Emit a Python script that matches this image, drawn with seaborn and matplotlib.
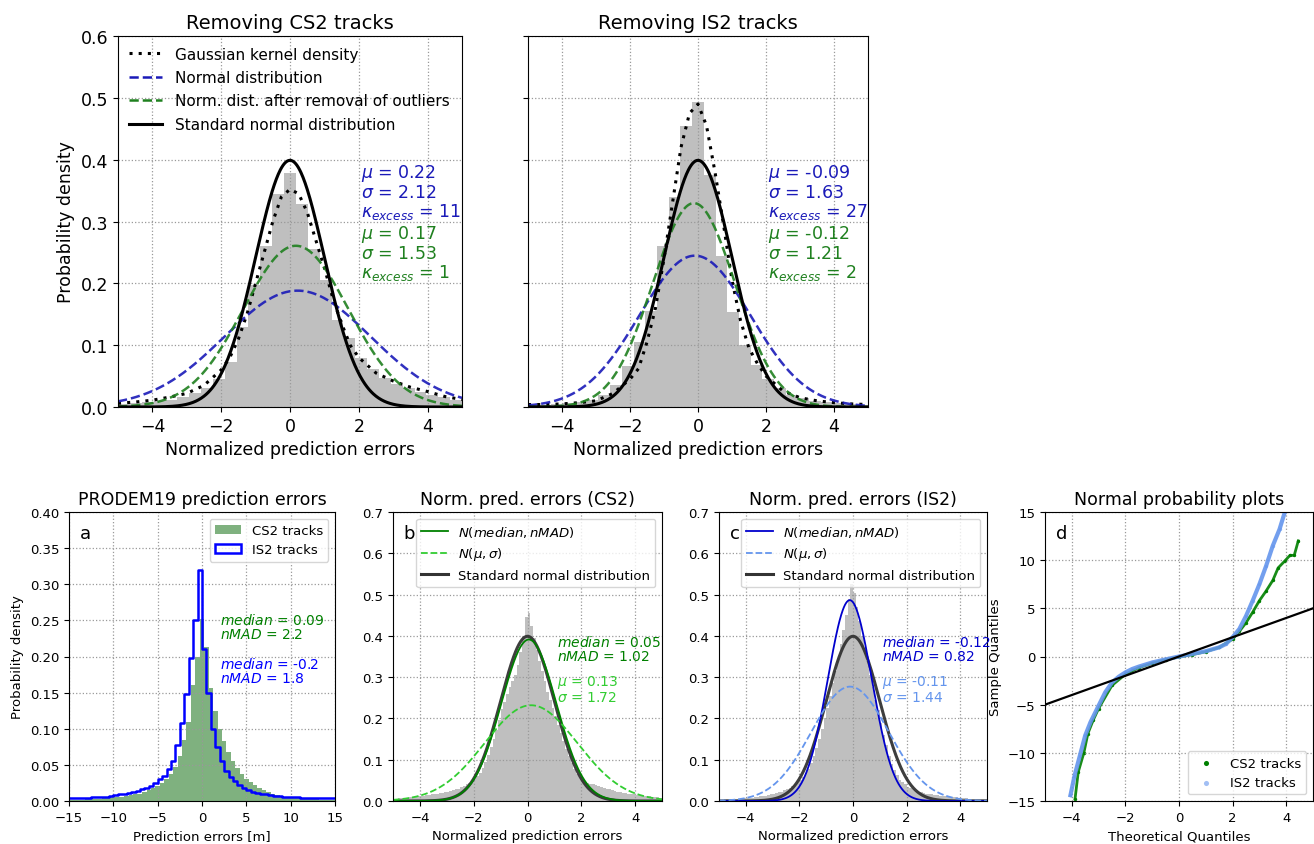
import numpy as np
import pandas as pd
import matplotlib
matplotlib.use('Agg')
import matplotlib.pyplot as plt
import seaborn as sns
from matplotlib.lines import Line2D
from matplotlib.patches import Patch
from matplotlib.ticker import FormatStrFormatter

# ---------------- data ----------------
# top row histograms: 29 bins between -5 and 5
top_n_bins = 29
cs2_top_hist = [0.005, 0.007, 0.008, 0.010, 0.012, 0.016, 0.022, 0.030, 0.045, 0.072,
                0.130, 0.198, 0.261, 0.345, 0.378, 0.328, 0.255, 0.205, 0.140, 0.112,
                0.080, 0.062, 0.047, 0.037, 0.030, 0.025, 0.020, 0.016, 0.012]
is2_top_hist = [0.003, 0.004, 0.005, 0.006, 0.008, 0.012, 0.020, 0.035, 0.067, 0.105,
                0.155, 0.260, 0.340, 0.455, 0.494, 0.375, 0.245, 0.154, 0.100, 0.068,
                0.046, 0.030, 0.020, 0.014, 0.010, 0.008, 0.006, 0.005, 0.004]
kde_x = [-5, -4.5, -4, -3.5, -3, -2.5, -2, -1.75, -1.5, -1.25, -1, -0.75, -0.5, -0.25,
         0, 0.25, 0.5, 0.75, 1, 1.25, 1.5, 1.75, 2, 2.5, 3, 3.5, 4, 4.5, 5]
cs2_kde = [0.006, 0.008, 0.011, 0.016, 0.022, 0.035, 0.060, 0.080, 0.110, 0.150, 0.200,
           0.250, 0.300, 0.340, 0.352, 0.345, 0.315, 0.270, 0.225, 0.175, 0.135, 0.100,
           0.080, 0.055, 0.042, 0.032, 0.025, 0.017, 0.012]
is2_kde = [0.004, 0.004, 0.005, 0.007, 0.010, 0.022, 0.045, 0.062, 0.105, 0.160, 0.240,
           0.330, 0.420, 0.475, 0.490, 0.455, 0.380, 0.295, 0.205, 0.140, 0.095, 0.070,
           0.050, 0.026, 0.015, 0.010, 0.007, 0.005, 0.004]
top_params = {
    'CS2': {'all': (0.22, 2.12, 11), 'clean': (0.17, 1.53, 1)},
    'IS2': {'all': (-0.09, 1.63, 27), 'clean': (-0.12, 1.21, 2)},
}

# panel a: prediction errors [m], 0.5 m bins
is2_a_hist = [0.004, 0.004, 0.004, 0.004, 0.004, 0.005, 0.005, 0.005, 0.006, 0.007,
              0.008, 0.009, 0.010, 0.011, 0.012, 0.014, 0.016, 0.018, 0.021, 0.025,
              0.030, 0.035, 0.044, 0.056, 0.077, 0.108, 0.148, 0.198, 0.250, 0.320,
              0.210, 0.150, 0.100, 0.075, 0.055, 0.042, 0.033, 0.027, 0.022, 0.018,
              0.015, 0.013, 0.011, 0.010, 0.009, 0.008, 0.007, 0.007, 0.006, 0.006,
              0.005, 0.005, 0.004, 0.004, 0.004, 0.004, 0.004, 0.004, 0.004, 0.004]
cs2_a_hist = [0.002, 0.002, 0.002, 0.002, 0.003, 0.003, 0.003, 0.003, 0.004, 0.004,
              0.005, 0.005, 0.006, 0.007, 0.008, 0.009, 0.010, 0.012, 0.015, 0.018,
              0.021, 0.025, 0.030, 0.037, 0.047, 0.062, 0.085, 0.110, 0.160, 0.200,
              0.252, 0.213, 0.157, 0.125, 0.100, 0.083, 0.068, 0.055, 0.045, 0.037,
              0.031, 0.026, 0.022, 0.018, 0.015, 0.012, 0.010, 0.008, 0.007, 0.006,
              0.005, 0.004, 0.004, 0.003, 0.003, 0.003, 0.003, 0.002, 0.002, 0.002, 0.002]
a_stats = {'CS2': (0.09, 2.2), 'IS2': (-0.2, 1.8)}

# panels b, c: normalized errors, 0.1 bins between -5 and 5
cs2_norm_hist = [0.006, 0.006, 0.007, 0.007, 0.008, 0.008, 0.009, 0.010, 0.011, 0.012,
                 0.012, 0.013, 0.014, 0.015, 0.016, 0.017, 0.018, 0.019, 0.020, 0.022,
                 0.023, 0.024, 0.026, 0.028, 0.030, 0.033, 0.036, 0.040, 0.044, 0.048,
                 0.053, 0.060, 0.069, 0.080, 0.095, 0.112, 0.130, 0.150, 0.172, 0.197,
                 0.222, 0.240, 0.258, 0.275, 0.290, 0.305, 0.330, 0.360, 0.400, 0.445,
                 0.455, 0.425, 0.395, 0.365, 0.340, 0.315, 0.290, 0.265, 0.245, 0.225,
                 0.205, 0.185, 0.165, 0.145, 0.125, 0.108, 0.092, 0.078, 0.066, 0.057,
                 0.051, 0.047, 0.044, 0.042, 0.040, 0.038, 0.036, 0.034, 0.032, 0.030,
                 0.028, 0.026, 0.025, 0.023, 0.022, 0.020, 0.019, 0.018, 0.017, 0.016,
                 0.015, 0.014, 0.013, 0.012, 0.012, 0.011, 0.010, 0.010, 0.009, 0.008]
is2_norm_hist = [0.003, 0.003, 0.004, 0.004, 0.004, 0.005, 0.005, 0.006, 0.006, 0.007,
                 0.007, 0.008, 0.008, 0.009, 0.010, 0.011, 0.012, 0.013, 0.014, 0.016,
                 0.017, 0.019, 0.021, 0.023, 0.026, 0.029, 0.032, 0.036, 0.040, 0.045,
                 0.050, 0.058, 0.067, 0.078, 0.092, 0.108, 0.128, 0.150, 0.175, 0.200,
                 0.225, 0.255, 0.285, 0.315, 0.345, 0.380, 0.415, 0.450, 0.490, 0.525,
                 0.505, 0.470, 0.435, 0.400, 0.370, 0.340, 0.305, 0.275, 0.245, 0.220,
                 0.190, 0.160, 0.135, 0.110, 0.090, 0.075, 0.062, 0.052, 0.045, 0.040,
                 0.035, 0.031, 0.028, 0.025, 0.023, 0.021, 0.019, 0.018, 0.017, 0.016,
                 0.015, 0.014, 0.013, 0.012, 0.011, 0.010, 0.010, 0.009, 0.009, 0.008,
                 0.008, 0.007, 0.007, 0.006, 0.006, 0.005, 0.005, 0.005, 0.004, 0.004]
b_stats = {'median': 0.05, 'nMAD': 1.02, 'mu': 0.13, 'sigma': 1.72}
c_stats = {'median': -0.12, 'nMAD': 0.82, 'mu': -0.11, 'sigma': 1.44}

# panel d: normal probability plot (theoretical vs sample quantiles)
qq_x_is2 = [-4.05, -3.9, -3.7, -3.5, -3.3, -3.0, -2.75, -2.5, -2.25, -2.0, -1.75, -1.5,
            -1.0, -0.5, 0.0, 0.5, 1.0, 1.5, 1.75, 2.0, 2.25, 2.5, 2.75, 3.0, 3.25, 3.5,
            3.75, 3.95]
qq_y_is2 = [-14.4, -12.4, -10.3, -8.2, -6.8, -5.1, -3.7, -2.7, -2.1, -1.65, -1.3, -1.05,
            -0.62, -0.3, 0.0, 0.27, 0.55, 0.95, 1.3, 2.0, 2.85, 4.2, 5.8, 7.5, 9.4, 11.5,
            13.2, 15.0]
qq_x_cs2 = [-3.88, -3.76, -3.55, -3.4, -3.2, -3.0, -2.5, -2.0, -1.5, -1.0, -0.5, 0.0,
            0.5, 1.0, 1.5, 2.0, 2.25, 2.5, 2.75, 3.0, 3.25, 3.5, 3.7, 3.96, 4.14, 4.3, 4.45]
qq_y_cs2 = [-14.8, -12.0, -10.0, -8.0, -6.6, -5.4, -3.0, -1.85, -1.15, -0.7, -0.33, -0.05,
            0.2, 0.5, 0.95, 1.8, 2.6, 3.5, 4.6, 5.8, 6.8, 7.9, 9.2, 9.95, 10.5, 10.5, 12.0]

# ---------------- helpers ----------------
def npdf(x, mu, s):
    return np.exp(-0.5 * ((x - mu) / s) ** 2) / (s * np.sqrt(2 * np.pi))

def centers_of(edges):
    edges = np.asarray(edges)
    return 0.5 * (edges[:-1] + edges[1:])

def weighted_hist(ax, edges, heights, **kw):
    df = pd.DataFrame({'x': centers_of(edges), 'w': np.asarray(heights, dtype=float)})
    sns.histplot(data=df, x='x', weights='w', bins=list(edges), stat='count', ax=ax, **kw)

W, H = 1314, 845
fig = plt.figure(figsize=(W / 100, H / 100), dpi=100)

def box(x0, y0, x1, y1):
    return [x0 / W, 1 - y1 / H, (x1 - x0) / W, (y1 - y0) / H]

ax1 = fig.add_axes(box(118, 37, 462, 408))
ax2 = fig.add_axes(box(528, 37, 868, 408))
axa = fig.add_axes(box(69, 513, 335, 802))
axb = fig.add_axes(box(393, 513, 662, 802))
axc = fig.add_axes(box(719, 513, 987, 802))
axd = fig.add_axes(box(1045, 513, 1313, 802))

xs = np.linspace(-5, 5, 501)
BLUE = '#1a1ab8'
GREEN = '#1f801f'
GRID = dict(linestyle=':', color='#999999', linewidth=0.9)

# ---------------- top row ----------------
top_edges = np.linspace(-5, 5, top_n_bins + 1)
for ax, hist, kde, key, title in [(ax1, cs2_top_hist, cs2_kde, 'CS2', 'Removing CS2 tracks'),
                                   (ax2, is2_top_hist, is2_kde, 'IS2', 'Removing IS2 tracks')]:
    weighted_hist(ax, top_edges, hist, color='grey', alpha=0.5, linewidth=0)
    mu1, s1, k1 = top_params[key]['all']
    mu2, s2, k2 = top_params[key]['clean']
    ax.plot(kde_x, kde, color='black', linestyle=(0, (1, 2)), lw=2.2)
    ax.plot(xs, npdf(xs, mu1, s1), color=BLUE, linestyle='--', lw=1.8, alpha=0.9)
    ax.plot(xs, npdf(xs, mu2, s2), color=GREEN, linestyle='--', lw=1.8, alpha=0.9)
    ax.plot(xs, npdf(xs, 0, 1), color='black', lw=2.2)
    ax.set_xlim(-5, 5)
    ax.set_ylim(0, 0.6)
    ax.set_xticks([-4, -2, 0, 2, 4])
    ax.set_yticks(np.arange(0, 0.61, 0.1))
    ax.yaxis.set_major_formatter(FormatStrFormatter('%.1f'))
    ax.grid(True, **GRID)
    ax.tick_params(labelsize=12.5)
    ax.set_title(title, fontsize=14)
    ax.set_xlabel('Normalized prediction errors', fontsize=12.5)
    ax.set_ylabel('')
    ax.text(2.05, 0.397, '$\\mu$ = %g\n$\\sigma$ = %.2f\n$\\kappa_{excess}$ = %d' % (mu1, s1, k1),
            color=BLUE, fontsize=12.5, va='top', ha='left', linespacing=1.0)
    ax.text(2.05, 0.297, '$\\mu$ = %g\n$\\sigma$ = %.2f\n$\\kappa_{excess}$ = %d' % (mu2, s2, k2),
            color=GREEN, fontsize=12.5, va='top', ha='left', linespacing=1.0)

ax1.set_ylabel('Probability density', fontsize=12.5)
ax2.tick_params(labelleft=False)
handles = [Line2D([], [], color='black', linestyle=(0, (1, 2)), lw=2.2),
           Line2D([], [], color=BLUE, linestyle='--', lw=1.8),
           Line2D([], [], color=GREEN, linestyle='--', lw=1.8),
           Line2D([], [], color='black', lw=2.2)]
labels = ['Gaussian kernel density', 'Normal distribution',
          'Norm. dist. after removal of outliers', 'Standard normal distribution']
ax1.legend(handles, labels, loc='upper left', frameon=False, fontsize=11,
           handlelength=2.2, borderaxespad=0.3, labelspacing=0.55)

# ---------------- panel a ----------------
a_edges = np.arange(-15, 15.01, 0.5)
a_green_edges = np.arange(-15.25, 15.26, 0.5)
weighted_hist(axa, a_green_edges, cs2_a_hist, color='darkgreen', alpha=0.5, linewidth=0)
weighted_hist(axa, a_edges, is2_a_hist, element='step', fill=False, color='blue', linewidth=1.8)
axa.set_xlim(-15, 15)
axa.set_ylim(0, 0.4)
axa.set_xticks([-15, -10, -5, 0, 5, 10, 15])
axa.set_yticks(np.arange(0, 0.401, 0.05))
axa.yaxis.set_major_formatter(FormatStrFormatter('%.2f'))
axa.grid(True, **GRID)
axa.set_title('PRODEM19 prediction errors', fontsize=12.5)
axa.set_xlabel('Prediction errors [m]', fontsize=9.5)
axa.set_ylabel('Probability density', fontsize=9.5)
axa.text(2.0, 0.262, '$median$ = %g\n$nMAD$ = %g' % a_stats['CS2'], color='green',
         fontsize=10, va='top', linespacing=1.0)
axa.text(2.0, 0.2, '$median$ = %g\n$nMAD$ = %g' % a_stats['IS2'], color='blue',
         fontsize=10, va='top', linespacing=1.0)
axa.legend([Patch(facecolor='darkgreen', alpha=0.5), Patch(facecolor='none', edgecolor='blue', lw=1.8)],
           ['CS2 tracks', 'IS2 tracks'], loc='upper right', fontsize=9.5)
axa.text(0.04, 0.96, 'a', transform=axa.transAxes, fontsize=13, va='top')

# ---------------- panels b and c ----------------
n_edges = np.linspace(-5, 5, 101)
for ax, hist, st, c1, c2, lab in [(axb, cs2_norm_hist, b_stats, 'green', 'limegreen', 'b'),
                                   (axc, is2_norm_hist, c_stats, 'mediumblue', 'cornflowerblue', 'c')]:
    weighted_hist(ax, n_edges, hist, color='grey', alpha=0.5, linewidth=0)
    ax.plot(xs, npdf(xs, 0, 1), color='#333333', lw=2.2, alpha=0.95)
    ax.plot(xs, npdf(xs, st['median'], st['nMAD']), color=c1, lw=1.3)
    ax.plot(xs, npdf(xs, st['mu'], st['sigma']), color=c2, lw=1.3, linestyle='--')
    ax.set_xlim(-5, 5)
    ax.set_ylim(0, 0.7)
    ax.set_xticks([-4, -2, 0, 2, 4])
    ax.set_yticks(np.arange(0, 0.71, 0.1))
    ax.yaxis.set_major_formatter(FormatStrFormatter('%.1f'))
    ax.grid(True, **GRID)
    ax.set_xlabel('Normalized prediction errors', fontsize=9.5)
    ax.set_ylabel('')
    ax.text(1.1, 0.405, '$median$ = %g\n$nMAD$ = %.2f' % (st['median'], st['nMAD']), color=c1,
            fontsize=10, va='top', linespacing=1.0)
    ax.text(1.1, 0.31, '$\\mu$ = %g\n$\\sigma$ = %.2f' % (st['mu'], st['sigma']), color=c2,
            fontsize=10, va='top', linespacing=1.0)
    ax.legend([Line2D([], [], color=c1, lw=1.3), Line2D([], [], color=c2, lw=1.3, linestyle='--'),
               Line2D([], [], color='#333333', lw=2.2)],
              ['$N(median, nMAD)$', '$N(\\mu, \\sigma)$', 'Standard normal distribution'],
              loc='upper right', fontsize=9.5)
    ax.text(0.04, 0.96, lab, transform=ax.transAxes, fontsize=13, va='top')
axb.set_title('Norm. pred. errors (CS2)', fontsize=12.5)
axc.set_title('Norm. pred. errors (IS2)', fontsize=12.5)

# ---------------- panel d ----------------
axd.plot(qq_x_cs2, qq_y_cs2, color='green', lw=2.0, alpha=0.9)
axd.plot(qq_x_is2, qq_y_is2, color='cornflowerblue', lw=3.0, alpha=0.9)
sns.scatterplot(x=qq_x_cs2, y=qq_y_cs2, color='green', s=6, linewidth=0, ax=axd, label='CS2 tracks')
sns.scatterplot(x=qq_x_is2, y=qq_y_is2, color='cornflowerblue', s=6, linewidth=0, ax=axd,
                label='IS2 tracks', alpha=0.6)
axd.plot([-5, 5], [-5, 5], color='black', lw=1.6)
axd.set_xlim(-5, 5)
axd.set_ylim(-15, 15)
axd.set_xticks([-4, -2, 0, 2, 4])
axd.set_yticks([-15, -10, -5, 0, 5, 10, 15])
axd.grid(True, **GRID)
axd.set_title('Normal probability plots', fontsize=12.5)
axd.set_xlabel('Theoretical Quantiles', fontsize=9.5)
axd.set_ylabel('Sample Quantiles', fontsize=9.5)
axd.legend(loc='lower right', fontsize=9.5, markerscale=1.5)
axd.text(0.04, 0.96, 'd', transform=axd.transAxes, fontsize=13, va='top')

for ax in [axa, axb, axc, axd]:
    ax.tick_params(labelsize=9.5)

fig.savefig('out.png', dpi=100)
